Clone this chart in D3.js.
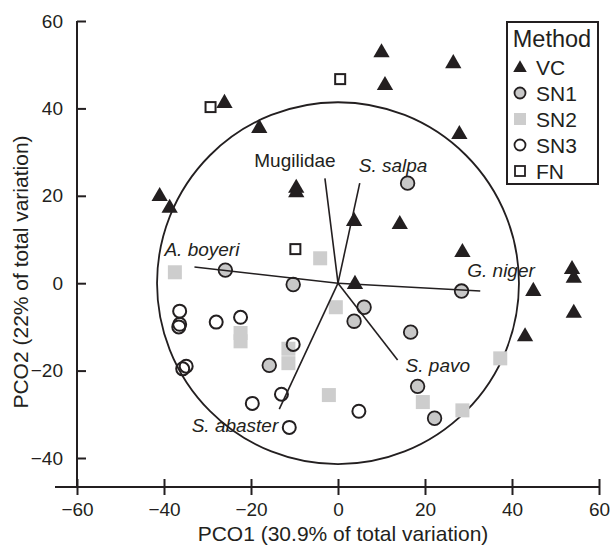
<!DOCTYPE html>
<html>
<head>
<meta charset="utf-8">
<script src="https://cdn.jsdelivr.net/npm/d3@7"></script>
<style>
  body { margin: 0; background: #fff; }
  text { font-family: "Liberation Sans", Arial, sans-serif; fill: #231f20; }
</style>
</head>
<body>
<div id="chart"></div>
<script>
// PCO scores per sampling method, [PCO1, PCO2]
var vcPts = [[10, 53], [26.5, 50.5], [10.8, 45.5], [-26.1, 41.4], [-18.1, 35.7], [27.9, 34.3],
             [-41, 20.1], [-38.7, 17.4], [-9.6, 22], [-9.6, 21], [3.7, 14.4], [14.2, 13.7],
             [28.6, 7.3], [3.9, 0], [53.8, 3.4], [54.2, 1.4], [44.9, -1.6], [43, -12], [54.2, -6.6]]
var sn1Pts = [[16, 22.9], [-25.9, 3], [-10.3, -0.3], [28.4, -1.8], [6, -5.5], [3.7, -8.7],
              [16.7, -11.2], [18.3, -23.6], [22.2, -30.9], [-15.8, -18.8]]
var sn2Pts = [[-37.5, 2.5], [-4.1, 5.7], [-0.5, -5.5], [-22.4, -11.4], [-22.4, -13.3],
              [-11.4, -15], [-11.4, -18.3], [-2.1, -25.6], [19.5, -27.2], [28.6, -29.1], [37.3, -17.2]]
var sn3Pts = [[-36.4, -6.4], [-36.4, -9.4], [-36.6, -10], [-28, -8.9], [-22.4, -7.8],
              [-35.7, -19.6], [-34.9, -19], [-10.3, -14], [-19.7, -27.5], [-13, -25.4],
              [-11.2, -33], [4.8, -29.3]]
var fnPts = [[-29.3, 40.3], [0.5, 46.7], [-9.8, 7.8]]

var methods = ["VC", "SN1", "SN2", "SN3", "FN"]

// species vectors (end points in PCO units)
var species = ["Mugilidae", "S. salpa", "G. niger", "S. pavo", "S. abaster", "A. boyeri"]
var vecX = [-3, 5, 32.7, 13.7, -13.5, -33]
var vecY = [24, 22.9, -1.8, -17.6, -28.8, 3.7]
var circleR = 41.6

var xTicks = [-60, -40, -20, 0, 20, 40, 60]
var yTicks = [-40, -20, 0, 20, 40, 60]

// label layout (pixel offsets from vector ends)
var labAnchor = ["middle", "start", "start", "start", "end", "start"]
var labDx = [-30, -1, -13, 8, -1, -30]
var labDy = [-11, -11, -14, 12, 23, -11]

var W = 614, H = 545
var svg = d3.select("#chart").append("svg")
    .attr("width", W)
    .attr("height", H)

svg.append("rect").attr("width", W).attr("height", H).attr("fill", "#fff")

var x = d3.scaleLinear().domain([-60, 60]).range([77, 599])
var y = d3.scaleLinear().domain([-40, 60]).range([458, 21])
var axisY = 487, axisX = 77
var ink = "#231f20", grey = "#cdcdcd"

// axes
var gx = svg.append("g")
    .attr("transform", "translate(0," + axisY + ")")
    .call(d3.axisBottom(x).tickValues(xTicks).tickSize(8).tickPadding(8))
gx.select(".domain").remove()
gx.selectAll(".tick line").attr("y1", -8).attr("stroke", ink).attr("stroke-width", 2)
gx.selectAll(".tick text").style("font-size", "19px").attr("fill", ink)
    .style("font-family", "Liberation Sans, Arial, sans-serif")
gx.append("line").attr("x1", 55).attr("x2", x(60)).attr("stroke", ink).attr("stroke-width", 2)

var gy = svg.append("g")
    .attr("transform", "translate(" + axisX + ",0)")
    .call(d3.axisLeft(y).tickValues(yTicks).tickSize(10).tickPadding(4))
gy.select(".domain").remove()
gy.selectAll(".tick line").attr("x2", 9).attr("stroke", ink).attr("stroke-width", 2)
gy.selectAll(".tick text").style("font-size", "19px").attr("fill", ink)
    .style("font-family", "Liberation Sans, Arial, sans-serif")
gy.append("line").attr("y1", y(60)).attr("y2", axisY).attr("stroke", ink).attr("stroke-width", 2)

// axis titles
svg.append("text")
    .attr("x", 343).attr("y", 541)
    .attr("text-anchor", "middle")
    .style("font-size", "21px")
    .text("PCO1 (30.9% of total variation)")

svg.append("text")
    .attr("transform", "translate(28,272) rotate(-90)")
    .attr("text-anchor", "middle")
    .style("font-size", "21px")
    .text("PCO2 (22% of total variation)")

// correlation circle
var pxPerUnit = x(1) - x(0)
svg.append("circle")
    .attr("cx", x(0)).attr("cy", y(0))
    .attr("r", circleR * pxPerUnit)
    .attr("fill", "none")
    .attr("stroke", ink)
    .attr("stroke-width", 1.8)

// points
var tri = d3.symbol().type(d3.symbolTriangle).size(115)

svg.append("g").selectAll("rect")
    .data(sn2Pts).enter().append("rect")
    .attr("x", function(d) { return x(d[0]) - 7 })
    .attr("y", function(d) { return y(d[1]) - 7 })
    .attr("width", 14).attr("height", 14)
    .attr("fill", grey)

svg.append("g").selectAll("path")
    .data(vcPts).enter().append("path")
    .attr("d", tri)
    .attr("transform", function(d) { return "translate(" + x(d[0]) + "," + (y(d[1]) + 1) + ")" })
    .attr("fill", ink)

svg.append("g").selectAll("circle")
    .data(sn1Pts).enter().append("circle")
    .attr("cx", function(d) { return x(d[0]) })
    .attr("cy", function(d) { return y(d[1]) })
    .attr("r", 6.8)
    .attr("fill", "#c8c8c8")
    .attr("stroke", ink).attr("stroke-width", 1.8)

svg.append("g").selectAll("circle")
    .data(sn3Pts).enter().append("circle")
    .attr("cx", function(d) { return x(d[0]) })
    .attr("cy", function(d) { return y(d[1]) })
    .attr("r", 6.5)
    .attr("fill", "none")
    .attr("stroke", ink).attr("stroke-width", 2)

svg.append("g").selectAll("rect")
    .data(fnPts).enter().append("rect")
    .attr("x", function(d) { return x(d[0]) - 5 })
    .attr("y", function(d) { return y(d[1]) - 5 })
    .attr("width", 10).attr("height", 10)
    .attr("fill", "#fff")
    .attr("stroke", ink).attr("stroke-width", 2)

// species vectors
var vg = svg.append("g")
species.forEach(function(s, i) {
    vg.append("line")
        .attr("x1", x(0)).attr("y1", y(0))
        .attr("x2", x(vecX[i])).attr("y2", y(vecY[i]))
        .attr("stroke", ink).attr("stroke-width", 1.6)
    vg.append("text")
        .attr("x", x(vecX[i]) + labDx[i])
        .attr("y", y(vecY[i]) + labDy[i])
        .attr("text-anchor", labAnchor[i])
        .style("font-size", "19px")
        .style("font-style", i == 0 ? "normal" : "italic")
        .text(s)
})

// legend
var lg = svg.append("g")
lg.append("rect")
    .attr("x", 507).attr("y", 22).attr("width", 91).attr("height", 162)
    .attr("fill", "#fff").attr("stroke", ink).attr("stroke-width", 2)
lg.append("text").attr("x", 552).attr("y", 47)
    .attr("text-anchor", "middle").style("font-size", "23.5px").text("Method")

methods.forEach(function(m, i) {
    var cy = 67 + i * 26, sx = 520
    if (m == "VC") {
        lg.append("path").attr("d", d3.symbol().type(d3.symbolTriangle).size(80))
            .attr("transform", "translate(" + sx + "," + (cy + 1) + ")").attr("fill", ink)
    } else if (m == "SN1") {
        lg.append("circle").attr("cx", sx).attr("cy", cy).attr("r", 5.5)
            .attr("fill", "#c8c8c8").attr("stroke", ink).attr("stroke-width", 1.8)
    } else if (m == "SN2") {
        lg.append("rect").attr("x", sx - 6).attr("y", cy - 6).attr("width", 12).attr("height", 12)
            .attr("fill", grey)
    } else if (m == "SN3") {
        lg.append("circle").attr("cx", sx).attr("cy", cy).attr("r", 5.5)
            .attr("fill", "none").attr("stroke", ink).attr("stroke-width", 1.8)
    } else {
        lg.append("rect").attr("x", sx - 5).attr("y", cy - 5).attr("width", 10).attr("height", 10)
            .attr("fill", "#fff").attr("stroke", ink).attr("stroke-width", 1.8)
    }
    lg.append("text").attr("x", 536).attr("y", cy + 8)
        .style("font-size", "21px").text(m)
})
</script>
</body>
</html>
